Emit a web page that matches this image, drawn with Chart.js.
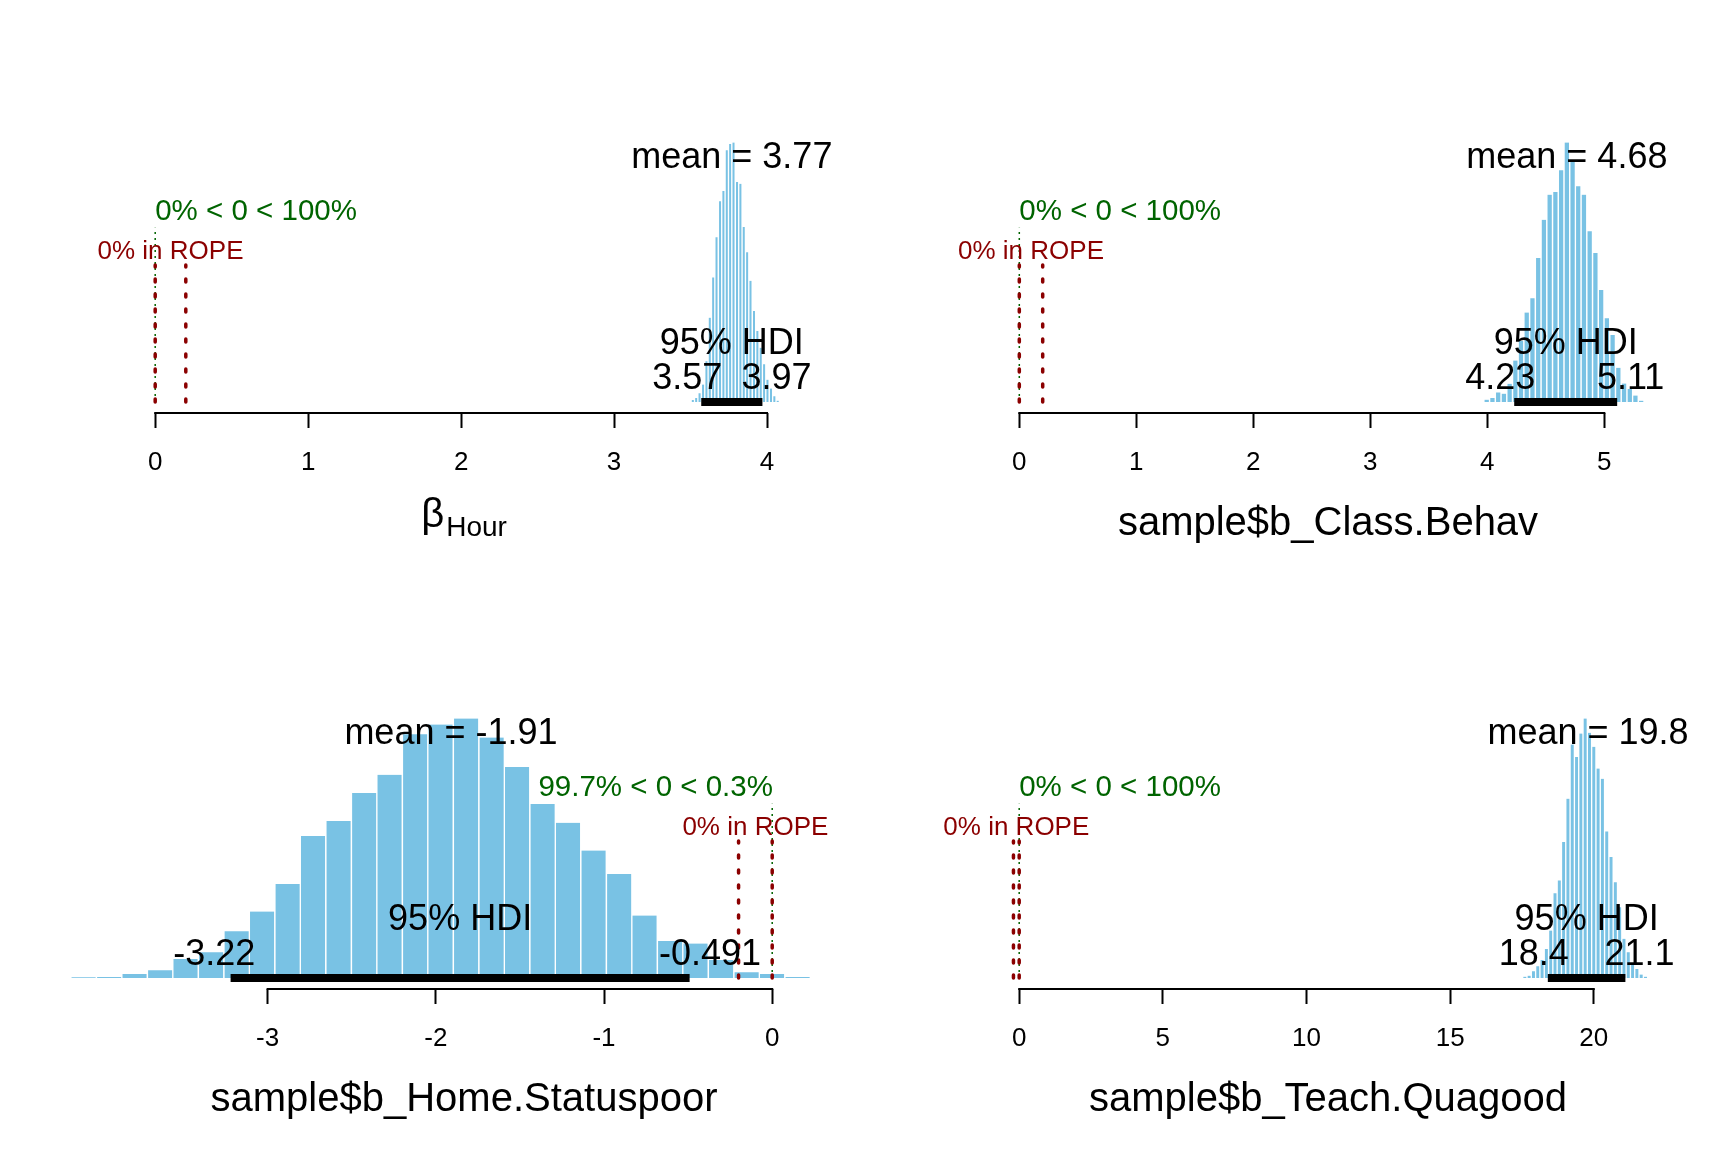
<!DOCTYPE html>
<html>
<head>
<meta charset="utf-8">
<script src="https://cdn.jsdelivr.net/npm/chart.js@4.4.1/dist/chart.umd.min.js"></script>
<style>
  html, body { margin: 0; padding: 0; background: #fff; }
  #grid { position: relative; width: 1728px; height: 1152px; }
  #grid canvas { position: absolute; }
</style>
</head>
<body>
<div id="grid">
  <canvas id="pHour" width="864" height="576" style="left:0;top:0"></canvas>
  <canvas id="pBehav" width="864" height="576" style="left:864px;top:0"></canvas>
  <canvas id="pHome" width="864" height="576" style="left:0;top:576px"></canvas>
  <canvas id="pTeach" width="864" height="576" style="left:864px;top:576px"></canvas>
</div>
<script>
// Histogram bins (bin centres) and bar heights (% of the tallest bar)
const hourBins = [3.515, 3.537, 3.559, 3.582, 3.604, 3.626, 3.648, 3.670, 3.693, 3.715, 3.737, 3.759, 3.781,
    3.804, 3.826, 3.848, 3.870, 3.892, 3.915, 3.937, 3.959, 3.981, 4.003, 4.026, 4.048, 4.070];
const hourHeights = [0.8, 1.5, 3.4, 6.7, 15.7, 32.5, 48.0, 63.5, 77.4, 81.3, 97.0, 99.4, 100,
    84.8, 84.1, 67.4, 57.7, 46.7, 35.1, 27.4, 20.9, 14.5, 8.6, 5.2, 2.2, 0.5];

const behavBins = [3.995, 4.044, 4.093, 4.142, 4.191, 4.240, 4.288, 4.337, 4.386, 4.435, 4.484, 4.533, 4.582, 4.631,
    4.680, 4.729, 4.777, 4.826, 4.875, 4.924, 4.973, 5.022, 5.071, 5.120, 5.169, 5.218, 5.266, 5.315];
const behavHeights = [0.9, 1.5, 3.7, 3.2, 7.0, 16.0, 23.5, 34.5, 40.0, 55.5, 70.2, 79.9, 80.9, 89.3,
    100, 92.5, 83.1, 79.9, 65.8, 57.4, 43.2, 32.3, 25.8, 13.2, 7.1, 5.0, 2.5, 0.5];

const homeBins = [-4.094, -3.942, -3.791, -3.639, -3.488, -3.336, -3.184, -3.033, -2.881, -2.730, -2.578, -2.426,
    -2.275, -2.123, -1.972, -1.820, -1.668, -1.517, -1.365, -1.214, -1.062, -0.910, -0.759, -0.607, -0.456,
    -0.304, -0.152, -0.001, 0.151];
const homeHeights = [0.3, 0.4, 1.5, 3.0, 7.3, 9.9, 18.0, 25.6, 36.2, 54.7, 60.5, 71.3, 78.3, 93.9, 97.7, 100,
    92.7, 81.3, 67.1, 59.8, 49.1, 40.1, 24.1, 14.3, 13.3, 6.9, 2.2, 1.5, 0.4];

const teachBins = [17.60, 17.75, 17.90, 18.05, 18.20, 18.35, 18.50, 18.65, 18.80, 18.95, 19.10, 19.25, 19.40, 19.55,
    19.70, 19.85, 20.00, 20.15, 20.30, 20.45, 20.60, 20.75, 20.90, 21.05, 21.20, 21.35, 21.50, 21.65, 21.80];
const teachHeights = [0.5, 0.9, 2.6, 4.5, 6.9, 11.2, 18.3, 32.7, 37.6, 52.4, 69.1, 90.0, 85.2, 94.2,
    100, 94.5, 89.1, 80.7, 76.8, 56.5, 46.6, 36.9, 27.3, 15.1, 9.9, 5.4, 3.5, 1.3, 0.5];

// Tick labels of each x axis
const hourTicks = [0, 1, 2, 3, 4];
const behavTicks = [0, 1, 2, 3, 4, 5];
const homeTicks = [-3, -2, -1, 0];
const teachTicks = [0, 5, 10, 15, 20];

// Summary numbers printed on each panel (Hour, Class.Behav, Home.Statuspoor, Teach.Quagood)
const xLabels = ['beta:Hour', 'sample$b_Class.Behav', 'sample$b_Home.Statuspoor', 'sample$b_Teach.Quagood'];
const postMeans = [3.77, 4.68, -1.91, 19.8];
const hdiLow = [3.57, 4.23, -3.22, 18.4];
const hdiHigh = [3.97, 5.11, -0.491, 21.1];
const pctBelowComp = [0, 0, 99.7, 0];
const pctAboveComp = [100, 100, 0.3, 100];
const compVal = 0;
const ropeLow = [0, 0, -0.2, -0.2];
const ropeHigh = [0.2, 0.2, 0, 0];
const pctInRope = [0, 0, 0, 0];
const xLimits = [[-0.7532, 4.5426], [-0.9855, 5.9376], [-4.3532, 0.4625], [-4.0097, 24.184]];

const FONT = '"Liberation Sans", Arial, Helvetica, sans-serif';
const BAR_COLOR = '#79C2E4';
const CV_COLOR = '#006400';
const ROPE_COLOR = '#8B0000';

// draws axis line, labels and the posterior summary texts
const postAnnot = {
    id: 'postAnnot',
    afterDatasetsDraw(chart, args, o) {
        const ctx = chart.ctx;
        const xs = chart.scales.x, ys = chart.scales.y;
        const top = o.top;
        const y0 = ys.getPixelForValue(0);
        ctx.save();

        // axis line only between first and last tick, like R
        const t = xs.ticks;
        ctx.strokeStyle = '#000';
        ctx.lineWidth = 2;
        ctx.beginPath();
        ctx.moveTo(xs.getPixelForValue(t[0].value) - 1, xs.top);
        ctx.lineTo(xs.getPixelForValue(t[t.length - 1].value) + 1, xs.top);
        ctx.stroke();

        ctx.textBaseline = 'alphabetic';

        // mean
        ctx.fillStyle = '#000';
        ctx.font = `36px ${FONT}`;
        ctx.textAlign = 'center';
        ctx.fillText('mean = ' + o.mean, xs.getPixelForValue(o.mean), ys.getPixelForValue(0.9 * top));

        // HDI
        ctx.fillText('95% HDI', xs.getPixelForValue((o.lo + o.hi) / 2), y0 - 48);
        ctx.textAlign = 'left';
        const loTxt = String(o.lo), hiTxt = String(o.hi);
        ctx.fillText(loTxt, xs.getPixelForValue(o.lo) - 0.7 * ctx.measureText(loTxt).width, y0 - 12.5);
        ctx.fillText(hiTxt, xs.getPixelForValue(o.hi) - 0.3 * ctx.measureText(hiTxt).width, y0 - 12.5);

        // comparison value
        ctx.fillStyle = CV_COLOR;
        ctx.font = `29.5px ${FONT}`;
        const cvTxt = `${o.below}% < ${compVal} < ${o.above}%`;
        const cvW = ctx.measureText(cvTxt).width;
        ctx.fillText(cvTxt, xs.getPixelForValue(compVal) - (o.below / 100) * cvW, ys.getPixelForValue(0.7 * top));

        // ROPE
        ctx.fillStyle = ROPE_COLOR;
        ctx.font = `26px ${FONT}`;
        ctx.textAlign = 'center';
        ctx.fillText(`${o.inRope}% in ROPE`, xs.getPixelForValue((o.ropeLo + o.ropeHi) / 2), ys.getPixelForValue(0.55 * top));

        // x label
        ctx.fillStyle = '#000';
        const cx = 464;
        if (o.xlabel.startsWith('beta:')) {
            const sub = o.xlabel.slice(5);
            ctx.font = `40px ${FONT}`;
            const wb = ctx.measureText('\u03B2').width;
            ctx.font = `28px ${FONT}`;
            const ws = ctx.measureText(sub).width;
            const left = cx - (wb + 2 + ws) / 2;
            ctx.textAlign = 'left';
            ctx.font = `40px ${FONT}`;
            ctx.fillText('\u03B2', left, 527);
            ctx.font = `28px ${FONT}`;
            ctx.fillText(sub, left + wb + 2, 536);
        } else {
            ctx.font = `40px ${FONT}`;
            ctx.textAlign = 'center';
            ctx.fillText(o.xlabel, cx, 535);
        }
        ctx.restore();
    }
};

function makePanel(canvasId, i, bins, heights, ticks) {
    const top = Math.max(...heights);
    const bars = bins.map((b, k) => ({ x: b, y: heights[k] }));
    const vline = (xv, h) => [{ x: xv, y: 0 }, { x: xv, y: h }];

    new Chart(document.getElementById(canvasId), {
        type: 'bar',
        data: {
            datasets: [
                {
                    type: 'bar', data: bars, backgroundColor: BAR_COLOR, borderColor: '#ffffff',
                    borderWidth: { left: 1, right: 1, top: 0, bottom: 0 },
                    barPercentage: 1, categoryPercentage: 1, order: 3
                },
                {
                    type: 'line', data: vline(compVal, 0.96 * 0.7 * top), borderColor: CV_COLOR,
                    borderWidth: 1.5, borderDash: [2, 4], pointRadius: 0, order: 2
                },
                {
                    type: 'line', data: vline(ropeLow[i], 0.96 * 0.55 * top), borderColor: ROPE_COLOR,
                    borderWidth: 3.5, borderDash: [3, 12], borderCapStyle: 'round', pointRadius: 0, order: 1
                },
                {
                    type: 'line', data: vline(ropeHigh[i], 0.96 * 0.55 * top), borderColor: ROPE_COLOR,
                    borderWidth: 3.5, borderDash: [3, 12], borderCapStyle: 'round', pointRadius: 0, order: 1
                },
                {
                    type: 'line', data: [{ x: hdiLow[i], y: 0 }, { x: hdiHigh[i], y: 0 }], borderColor: '#000',
                    borderWidth: 8, borderCapStyle: 'butt', pointRadius: 0, order: 0
                }
            ]
        },
        options: {
            responsive: false,
            devicePixelRatio: 1,
            animation: false,
            events: [],
            layout: { padding: { left: 40, right: 14, top: 60, bottom: 0 } },
            scales: {
                x: {
                    type: 'linear',
                    offset: false,
                    min: xLimits[i][0],
                    max: xLimits[i][1],
                    afterBuildTicks: (scale) => { scale.ticks = ticks.map(v => ({ value: v })); },
                    afterFit: (scale) => { scale.height = 163; },
                    border: { display: false },
                    grid: {
                        offset: false, drawOnChartArea: false, drawTicks: true, tickLength: 15,
                        tickWidth: 2, tickColor: '#000'
                    },
                    ticks: {
                        autoSkip: false, maxRotation: 0, padding: 19.5, color: '#000',
                        font: { family: FONT, size: 26 },
                        callback: (v) => String(v)
                    }
                },
                y: { display: false, min: -4.24, max: 131.8 }
            },
            plugins: {
                legend: { display: false },
                tooltip: { enabled: false },
                postAnnot: {
                    top: top, mean: postMeans[i], lo: hdiLow[i], hi: hdiHigh[i],
                    below: pctBelowComp[i], above: pctAboveComp[i],
                    ropeLo: ropeLow[i], ropeHi: ropeHigh[i], inRope: pctInRope[i],
                    xlabel: xLabels[i]
                }
            }
        },
        plugins: [postAnnot]
    });
}

makePanel('pHour', 0, hourBins, hourHeights, hourTicks);
makePanel('pBehav', 1, behavBins, behavHeights, behavTicks);
makePanel('pHome', 2, homeBins, homeHeights, homeTicks);
makePanel('pTeach', 3, teachBins, teachHeights, teachTicks);
</script>
</body>
</html>
